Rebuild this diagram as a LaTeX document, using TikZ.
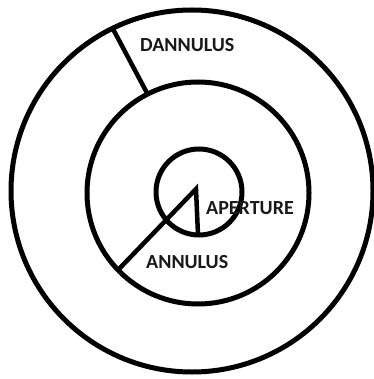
\documentclass[tikz,border=0pt]{standalone}
\usepackage{fontspec}
\setmainfont{Carlito}
\begin{document}
\begin{tikzpicture}[x=1pt,y=-1pt,
  ring/.style={draw=black,line width=5pt},
  radius line/.style={draw=black,line width=4.5pt},
  lbl/.style={inner sep=0pt,anchor=base west,font=\fontsize{20}{24}\selectfont\bfseries,text=black!90}]
\useasboundingbox (0,0) rectangle (373,379);
% circles
\draw[ring] (192,191) circle[radius=181];
\draw[ring] (198,193) circle[radius=111];
\draw[ring] (199,192) circle[radius=43];
% line endpoints
\coordinate (dOut) at (113,29);
\coordinate (dIn) at (147,93);
\coordinate (aOut) at (118,270);
\coordinate (apex) at (196,189);
\coordinate (pBot) at (198,235);
\draw[radius line] (dOut) -- (dIn);
\draw[radius line,line join=miter] (aOut) -- (apex) -- (pBot);
% labels
\node[lbl] (dannulus) at (140,52) {DANNULUS};
\node[lbl] (aperture) at (206,214) {APERTURE};
\node[lbl] (annulus) at (146,268) {ANNULUS};
\end{tikzpicture}
\end{document}
